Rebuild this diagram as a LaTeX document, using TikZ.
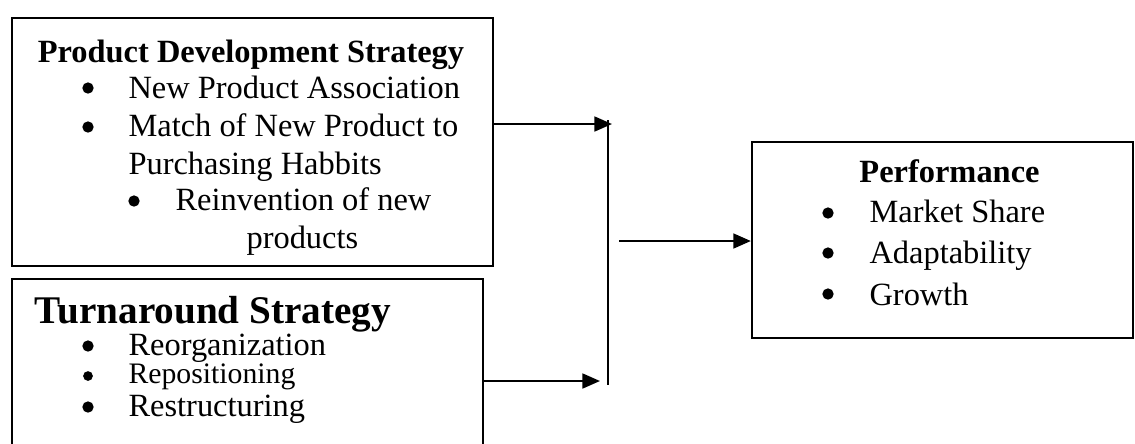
\documentclass[tikz,border=0pt]{standalone}
\usepackage{fontspec}
\setmainfont{Liberation Serif}
\usepackage{tikz}
\usetikzlibrary{arrows.meta,positioning,calc}
\tikzstyle{block}=[draw,line width=0.8pt,inner sep=0pt]
\tikzstyle{head}=[font=\bfseries\fontsize{12}{14}\selectfont,anchor=base,inner sep=0pt]
\tikzstyle{item}=[font=\fontsize{12}{14}\selectfont,anchor=base west,inner sep=0pt]
\tikzstyle{dot}=[circle,fill=black,minimum size=4.2pt,inner sep=0pt]
\tikzstyle{link}=[line width=0.8pt,-{Triangle[length=6.5pt,width=5.5pt]}]

\begin{document}
\begin{tikzpicture}[x=0.37pt,y=-0.37pt]
\useasboundingbox (0,0) rectangle (1135,443);
\clip (0,0) rectangle (1135,443);
% boxes
\node [block,minimum width=178pt,minimum height=91.8pt] (pds) at (252.5,142) {};
\node [block,minimum width=174.3pt,minimum height=70.7pt] (ts) at (247.5,374.5) {};
\node [block,minimum width=141pt,minimum height=72.5pt] (perf) at (942.5,240) {};
% product development strategy
\node [head] (pdsh) at (251,62) {Product Development Strategy};
\node [dot] (pdsb1) at (88,88) {};
\node [item] (pds1) at (128,98) {New Product Association};
\node [dot] (pdsb2) at (88,127) {};
\node [item] (pds2) at (128,136) {Match of New Product to};
\node [item] (pds2a) at (128,174) {Purchasing Habbits};
\node [dot] (pdsb3) at (134,201) {};
\node [item] (pds3) at (175,210) {Reinvention of new};
\node [item] (pds3a) at (246,248) {products};
% turnaround strategy
\node [head,font=\bfseries\fontsize{14.5}{16}\selectfont] (tsh) at (213,323) {Turnaround Strategy};
\node [dot] (tsb1) at (88,346) {};
\node [item] (ts1) at (128,355) {Reorganization};
\node [dot,minimum size=3.6pt] (tsb2) at (88,376) {};
\node [item,font=\fontsize{11}{13}\selectfont] (ts2) at (128,383) {Repositioning};
\node [dot] (tsb3) at (88,407) {};
\node [item] (ts3) at (128,416) {Restructuring};
% performance
\node [head] (perfh) at (949.5,182) {Performance};
\node [dot] (perfb1) at (828,213) {};
\node [item] (perf1) at (869,222) {Market Share};
\node [dot] (perfb2) at (828,253) {};
\node [item] (perf2) at (869,263) {Adaptability};
\node [dot] (perfb3) at (828,294) {};
\node [item] (perf3) at (869,305) {Growth};
% connectors
\coordinate (j1) at (608,120);
\coordinate (j2) at (608,385);
\coordinate (t1) at (612,124);
\coordinate (t2) at (600,381);
\coordinate (j3) at (619,241);
\draw [link] (pds.east |- t1) -- (t1);
\draw [link] (ts.east |- t2) -- (t2);
\draw [line width=0.4pt] (j1) -- (j2);
\draw [link] (j3) -- (perf.west |- j3);
\end{tikzpicture}
\end{document}
